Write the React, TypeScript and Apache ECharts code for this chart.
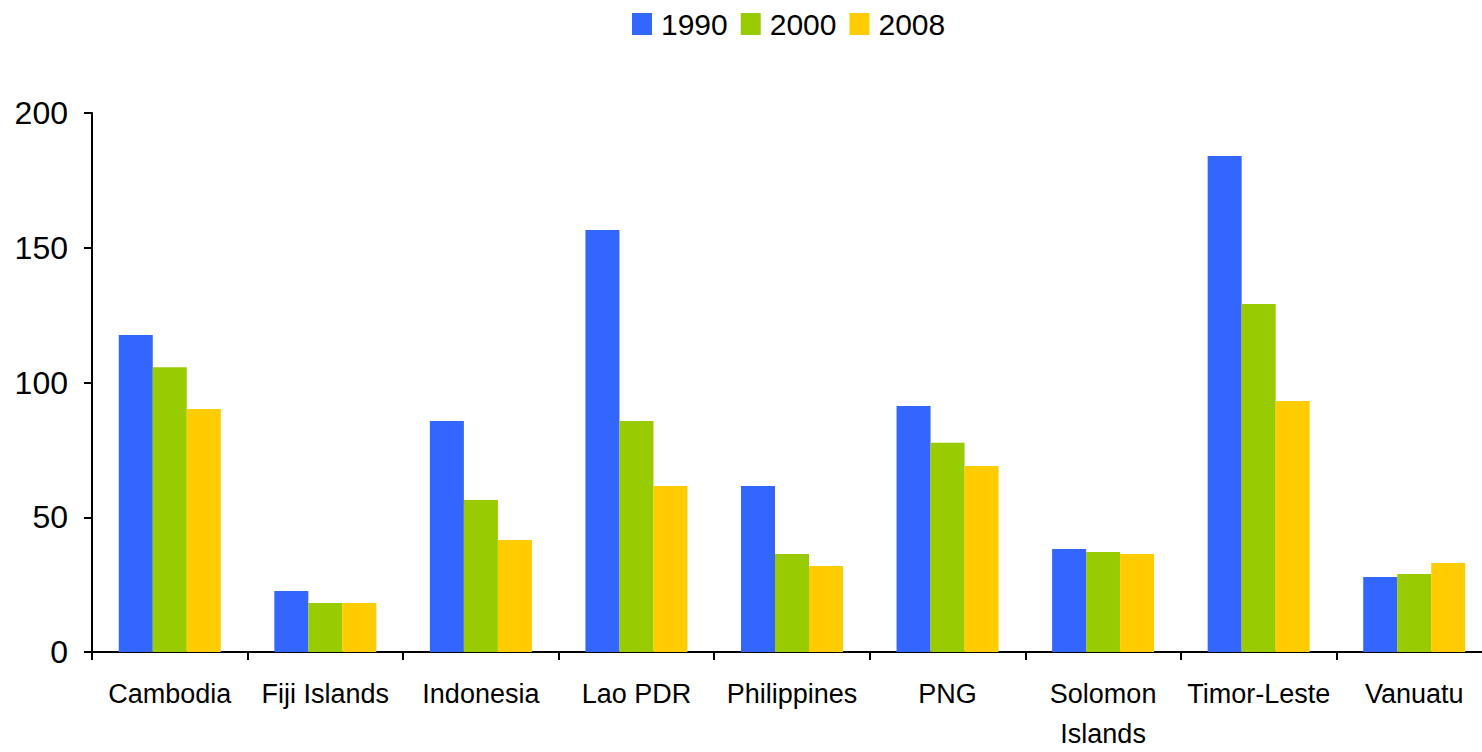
import React, { useEffect, useRef } from "react";
import * as echarts from "echarts";

const categories = ["Cambodia", "Fiji Islands", "Indonesia", "Lao PDR", "Philippines", "PNG", "Solomon\nIslands", "Timor-Leste", "Vanuatu"];
const s1990 = [117.6, 22.6, 85.7, 156.6, 61.6, 91.3, 38.2, 184.0, 27.8];
const s2000 = [105.7, 18.2, 56.4, 85.7, 36.4, 77.6, 37.1, 129.1, 28.9];
const s2008 = [90.2, 18.2, 41.6, 61.6, 31.9, 69.0, 36.4, 93.1, 33.0];
const yTicks = [0, 50, 100, 150, 200];

const FONT = "'Liberation Sans', Arial, sans-serif";

export default function App() {
  const ref = useRef<HTMLDivElement>(null);
  useEffect(() => {
    if (!ref.current) return;
    const chart = echarts.init(ref.current, null, { renderer: "svg" });
    const bar = (name: string, data: number[], color: string) => ({
      name,
      type: "bar",
      data,
      barWidth: 34,
      barGap: "0%",
      itemStyle: { color },
    });
    chart.setOption({
      animation: false,
      backgroundColor: "#ffffff",
      textStyle: { fontFamily: FONT },
      legend: {
        top: 9,
        left: 632,
        padding: 0,
        itemWidth: 20,
        itemHeight: 22,
        itemGap: 13,
        icon: "rect",
        textStyle: { fontSize: 30, color: "#000", fontFamily: FONT, padding: [0, 0, 0, 4] },
        data: ["1990", "2000", "2008"],
      },
      grid: { left: 92, right: -10, top: 113, bottom: 100, containLabel: false, outerBoundsMode: "none" },
      xAxis: {
        type: "category",
        data: categories,
        axisLine: { lineStyle: { color: "#000", width: 2 } },
        axisTick: { show: true, length: 8, lineStyle: { color: "#000", width: 2 } },
        axisLabel: { color: "#000", fontSize: 27, fontFamily: FONT, margin: 22, lineHeight: 40, interval: 0 },
      },
      yAxis: {
        type: "value",
        min: yTicks[0],
        max: yTicks[yTicks.length - 1],
        interval: 50,
        splitLine: { show: false },
        axisLine: { show: true, lineStyle: { color: "#000", width: 2 } },
        axisTick: { show: true, length: 8, lineStyle: { color: "#000", width: 2 } },
        axisLabel: { color: "#000", fontSize: 32, fontFamily: FONT, margin: 24 },
      },
      series: [
        bar("1990", s1990, "#3366FF"),
        bar("2000", s2000, "#99CC00"),
        bar("2008", s2008, "#FFCC00"),
      ],
    });
    return () => chart.dispose();
  }, []);
  return <div ref={ref} style={{ position: "fixed", left: 0, top: 0, width: 1482, height: 752 }} />;
}
